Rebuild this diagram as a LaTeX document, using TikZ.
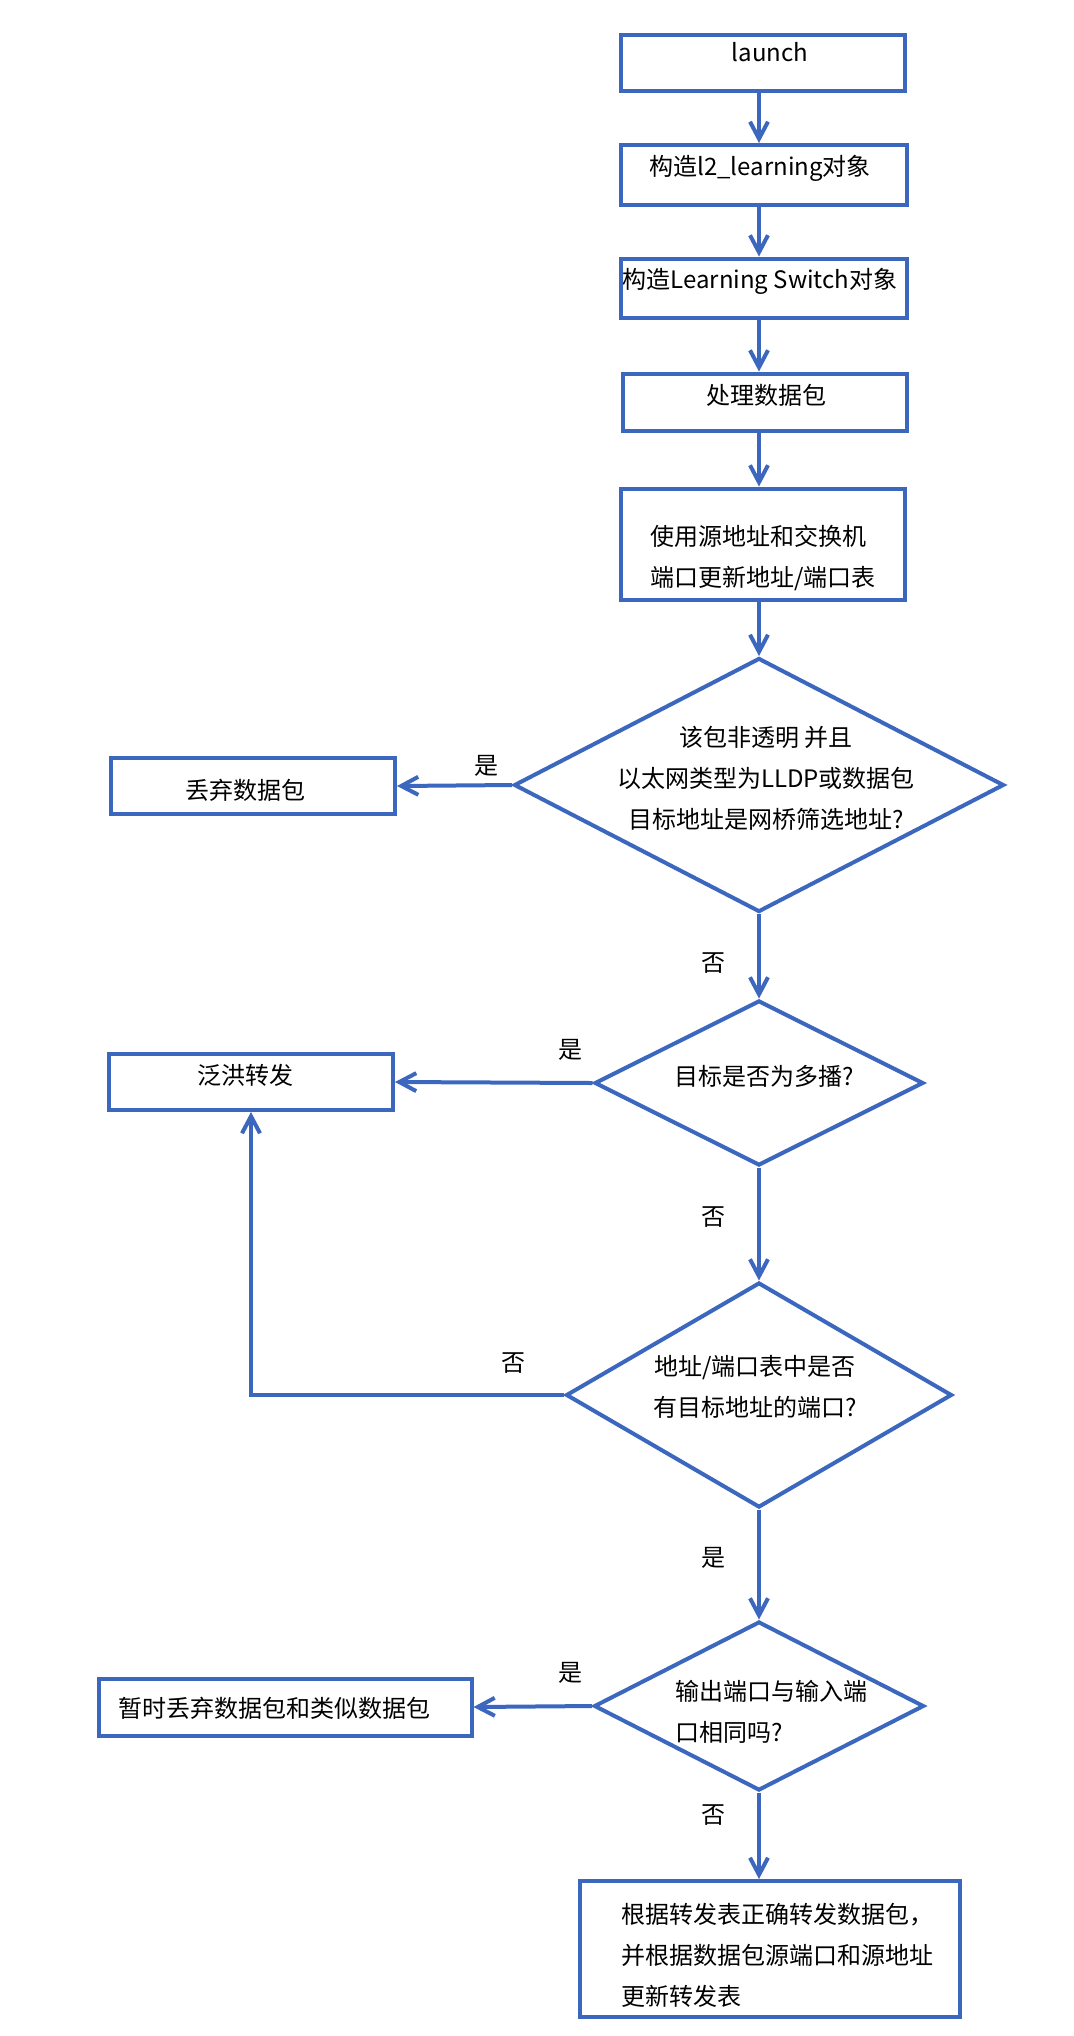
\documentclass[tikz,border=0pt]{standalone}
\usepackage{fontspec}
\setmainfont{Noto Sans CJK SC}
\usetikzlibrary{shapes.geometric,arrows.meta}
\definecolor{flowblue}{RGB}{59,103,190}

\begin{document}
\begin{tikzpicture}[x=0.5pt, y=-0.5pt, font=\fontsize{12}{20.5}\selectfont,
		box/.style={draw=flowblue, line width=2pt, inner sep=0pt},
		dec/.style={diamond, draw=flowblue, line width=2pt, inner sep=0pt},
		txt/.style={inner sep=0pt, align=left},
		flow/.style={->, draw=flowblue, line width=2pt},
		>={Straight Barb[length=8.5pt, width=9pt]}]
		\useasboundingbox (0,0) rectangle (1073,2036);

		\node[box, minimum width=142pt, minimum height=28pt] (launch) at (763,63) {};
		\node[txt] (tlaunch) at (770,52) {launch};
		\node[box, minimum width=143pt, minimum height=30pt] (l2) at (764,175) {};
		\node[txt] (tl2) at (760,168) {构造l2\_learning对象};
		\node[box, minimum width=143pt, minimum height=29.5pt] (ls) at (764,288) {};
		\node[txt] (tls) at (760,281) {构造Learning Switch对象};
		\node[box, minimum width=142pt, minimum height=28.5pt] (proc) at (765,402) {};
		\node[txt] (tproc) at (766,395) {处理数据包};
		\node[box, minimum width=142pt, minimum height=55.5pt] (upd) at (763,544) {};
		\node[txt, anchor=west] (tupd) at (650,558) {使用源地址和交换机\\端口更新地址/端口表};

		\node[dec, minimum width=245pt, minimum height=127pt] (d1) at (759,785) {};
		\node[txt, align=center] (td1) at (766,778) {该包非透明 并且\\以太网类型为LLDP或数据包\\目标地址是网桥筛选地址?};
		\node[box, minimum width=142pt, minimum height=28pt] (drop) at (253,786) {};
		\node[txt] (tdrop) at (245,790) {丢弃数据包};

		\node[dec, minimum width=164.5pt, minimum height=82.5pt] (d2) at (759,1083) {};
		\node[txt] (td2) at (764,1076) {目标是否为多播?};
		\node[box, minimum width=142pt, minimum height=28pt] (flood) at (251,1082) {};
		\node[txt] (tflood) at (245,1075) {泛洪转发};

		\node[dec, minimum width=193pt, minimum height=112.5pt] (d3) at (759,1395) {};
		\node[txt, align=center] (td3) at (755,1387) {地址/端口表中是否\\有目标地址的端口?};

		\node[dec, minimum width=165pt, minimum height=84.5pt] (d4) at (759,1706) {};
		\node[txt, anchor=west] (td4) at (675,1712) {输出端口与输入端\\口相同吗?};
		\node[box, minimum width=186.5pt, minimum height=28.5pt] (tmp) at (285,1707) {};
		\node[txt] (ttmp) at (274,1708) {暂时丢弃数据包和类似数据包};

		\node[box, minimum width=190pt, minimum height=68pt] (fwd) at (770,1949) {};
		\node[txt, anchor=west] (tfwd) at (621,1955) {根据转发表正确转发数据包，\\并根据数据包源端口和源地址\\更新转发表};

		\draw[flow] (launch.south -| d1.north) -- (l2.north -| d1.north);
		\draw[flow] (l2.south -| d1.north) -- (ls.north -| d1.north);
		\draw[flow] (ls.south -| d1.north) -- (proc.north -| d1.north);
		\draw[flow] (proc.south -| d1.north) -- (upd.north -| d1.north);
		\draw[flow] (upd.south -| d1.north) -- (d1.north);
		\draw[flow] (d1.west) -- node[above, pos=0.22] (yes1) {是} (drop.east);
		\draw[flow] (d1.south) -- node[left=12.5pt, pos=0.58] (no1) {否} (d2.north);
		\draw[flow] (d2.west) -- node[above=7pt, pos=0.11] (yes2) {是} (flood.east);
		\draw[flow] (d2.south) -- node[left=12.5pt, pos=0.44] (no2) {否} (d3.north);
		\draw[flow] (d3.west) -| node[above=6.5pt, pos=0.08] (no3) {否} (flood.south);
		\draw[flow] (d3.south) -- node[left=12.5pt, pos=0.44] (yes3) {是} (d4.north);
		\draw[flow] (d4.west) -- node[above=7pt, pos=0.18] (yes4) {是} (tmp.east);
		\draw[flow] (d4.south) -- node[left=12.5pt, pos=0.26] (no4) {否} (d4.south |- fwd.north);
	\end{tikzpicture}
\end{document}
